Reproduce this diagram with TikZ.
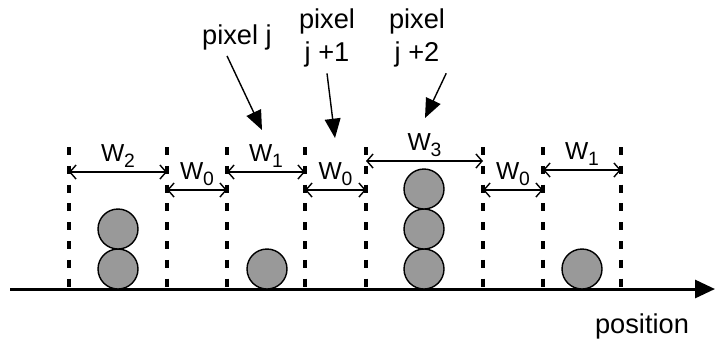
\documentclass[tikz,border=0pt]{standalone}
\usepackage{fontspec}
\setmainfont{Liberation Sans}
\usetikzlibrary{arrows.meta}

\newcommand{\wsub}[1]{W\raisebox{-0.45ex}{\fontsize{11}{12}\selectfont #1}}

\begin{document}
\begin{tikzpicture}[x=0.02cm,y=-0.02cm,
    grid/.style={line width=2.6pt,dash pattern=on 4.5pt off 6.2pt},
    dim/.style={{Straight Barb[length=3.5pt,width=8pt]}-{Straight Barb[length=3.5pt,width=8pt]},line width=0.8pt},
    wlab/.style={inner sep=1pt,font=\fontsize{14}{16}\selectfont},
    ball/.style={draw,line width=0.8pt,fill=black!40},
    ptr/.style={-{Triangle[length=11pt,width=9pt]},line width=0.8pt},
    txt/.style={align=center,font=\fontsize{15.5}{18.7}\selectfont}]
\useasboundingbox (0,0) rectangle (715,343);

% pixel borders
\foreach \n/\x in {g1/69,g2/167,g3/227,g4/305,g5/366,g6/483,g7/543,g8/621}{
  \draw[grid] (\x,147) coordinate (\n) -- (\x,289);
}

% position axis
\draw[line width=1.7pt,-{Triangle[length=0.4cm,width=0.36cm]}] (10,289) coordinate (ax0) -- (715,289) coordinate (ax1);
\node[txt] (pos) at (642,326) {position};

% widths
\draw[dim] (g1|-0,172) -- (g2|-0,172) node[wlab,midway,above=1pt] (w2) {\wsub{2}};
\draw[dim] (g2|-0,190) -- (g3|-0,190) node[wlab,midway,above=1pt] (w0a) {\wsub{0}};
\draw[dim] (g3|-0,172) -- (g4|-0,172) node[wlab,midway,above=1pt] (w1a) {\wsub{1}};
\draw[dim] (g4|-0,190) -- (g5|-0,190) node[wlab,midway,above=1pt] (w0b) {\wsub{0}};
\draw[dim] (g5|-0,161) -- (g6|-0,161) node[wlab,midway,above=1pt] (w3) {\wsub{3}};
\draw[dim] (g6|-0,190) -- (g7|-0,190) node[wlab,midway,above=1pt] (w0c) {\wsub{0}};
\draw[dim] (g7|-0,170) -- (g8|-0,170) node[wlab,midway,above=1pt] (w1b) {\wsub{1}};

% photons
\draw[ball] (118,269) circle (0.4cm) (118,229) circle (0.4cm);
\draw[ball] (267,269) circle (0.4cm);
\draw[ball] (424,269) circle (0.4cm) (424,229) circle (0.4cm) (424,189) circle (0.4cm);
\draw[ball] (582,269) circle (0.4cm);

% pixel labels
\node[txt] (pj) at (237,37) {pixel j};
\node[txt] (pj1) at (327,38) {pixel\\j +1};
\node[txt] (pj2) at (417,38) {pixel\\j +2};
\coordinate (tj) at (262,130);
\coordinate (tj1) at (335,138);
\coordinate (tj2) at (425,118);
\draw[ptr] ([xshift=-0.2cm]pj.south) -- (tj);
\draw[ptr] (pj1.south) -- (tj1);
\draw[ptr] ([xshift=-0.1cm]pj2.south east) -- (tj2);

\end{tikzpicture}
\end{document}
